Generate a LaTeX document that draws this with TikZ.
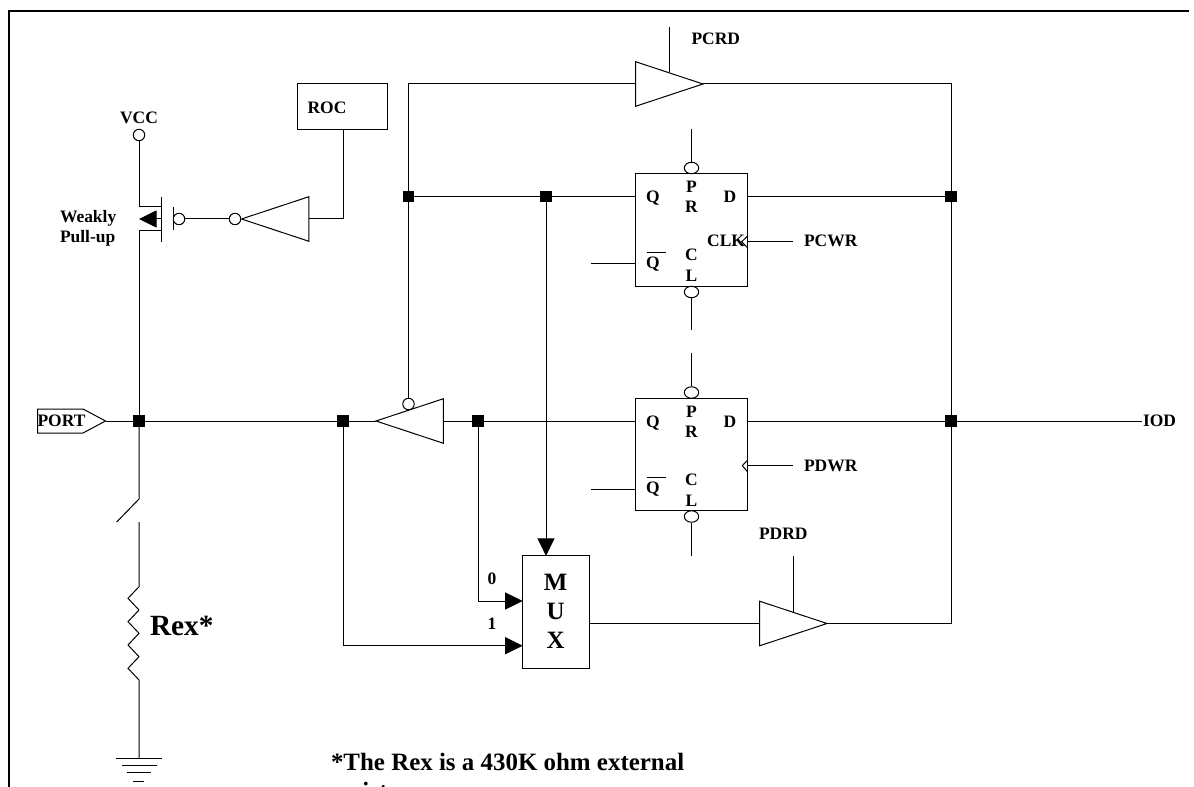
\documentclass[tikz,border=0pt]{standalone}
\usepackage{fontspec}
\setmainfont{Liberation Serif}
\usetikzlibrary{arrows, arrows.meta}
\usetikzlibrary{shapes.geometric}
\tikzset{
  wire/.style={line width=0.75pt},
  lab/.style={font=\bfseries\fontsize{13.1}{15.2}\selectfont, inner sep=0pt, outer sep=0pt, anchor=base},
  biglab/.style={font=\bfseries\fontsize{18.7}{21.3}\selectfont, inner sep=0pt, outer sep=0pt, anchor=base},
  dot/.style={rectangle, fill=black, inner sep=0pt, minimum size=8.4pt},
  bubble/.style={circle, draw, line width=0.75pt, fill=white, inner sep=0pt, minimum size=8.6pt},
  ffbubble/.style={ellipse, draw, line width=0.75pt, fill=white, inner sep=0pt, minimum width=10.8pt, minimum height=8.6pt},
  buf/.style={isosceles triangle, isosceles triangle stretches, draw, line width=0.75pt, inner sep=0pt, outer sep=0pt, minimum width=33.4pt, minimum height=50.5pt, anchor=apex},
  ffbox/.style={rectangle, draw, line width=0.75pt, inner sep=0pt, outer sep=0pt, minimum width=84.3pt, minimum height=84.6pt},
  tip/.style={wire, -{Triangle[length=13.2pt, width=12.8pt]}}
}
\begin{document}
\begin{tikzpicture}[x=0.75pt, y=-0.75pt]
      \useasboundingbox (0,0) rectangle (1194,787);
      \clip (0,0) rectangle (1194,787);
      \draw[line width=1.5pt] (9,787) -- (9,11) -- (1189,11);

      \node[bubble] (vcc) at (139,135) {};
      \node[lab] (vcclab) at (139,124) {VCC};
      \node[lab, align=left, anchor=base west] (pullup) at (60,243) {Weakly\\Pull-up};
      \node[rectangle, draw, line width=0.75pt, inner sep=0pt, outer sep=0pt, minimum width=68pt, minimum height=33.8pt] (roc) at (342.5,106.5) {};
      \node[lab] (roclab) at (327,114) {ROC};

      \coordinate (mostop) at (139,207);
      \coordinate (mosd) at (161.5,207);
      \coordinate (moss) at (161.5,231);
      \coordinate (mosbot) at (139,231);
      \coordinate (chtop) at (161.5,197);
      \coordinate (chbot) at (161.5,242);
      \coordinate (bulk) at (161.5,219);
      \coordinate (bulktip) at (139,219);
      \coordinate (gatetop) at (173,207);
      \coordinate (gatebot) at (173,230);
      \node[bubble] (gate) at (179,219) {};
      \node[bubble] (invbub) at (235,219) {};
      \node[buf, shape border rotate=180] (inv) at (241.5,219) {};
      \coordinate (rocbend) at (343,219);

      \draw[wire] (vcc) -- (mostop) -- (mosd);
      \draw[wire] (chtop) -- (chbot);
      \draw[wire] (moss) -- (mosbot);
      \draw[tip] (bulk) -- (bulktip);
      \draw[wire] (gatetop) -- (gatebot);
      \draw[wire] (gate) -- (invbub);
      \draw[wire] (inv.lower side) -- (rocbend) -- (rocbend |- roc.south);

      \coordinate (porttl) at (37.5,409);
      \coordinate (porttr) at (83,409);
      \coordinate (porttip) at (105.5,421);
      \coordinate (portbr) at (83,433);
      \coordinate (portbl) at (37.5,433);
      \draw[wire] (porttl) -- (porttr) -- (porttip) -- (portbr) -- (portbl) -- cycle;
      \node[lab, anchor=base west] (portlab) at (37.5,426) {PORT};

      \node[dot] (j1) at (139,421) {};
      \node[dot] (j2) at (343,421) {};
      \node[dot] (j3) at (478,421) {};
      \node[dot] (j4) at (408.5,196.5) {};
      \node[dot] (j5) at (546,196.5) {};
      \node[dot] (j6) at (951,196.5) {};
      \node[dot] (j7) at (951,421) {};

      \node[buf, shape border rotate=180] (inbuf) at (376,421) {};
      \node[bubble] (inbub) at (408.5,404) {};
      \node[buf] (pcrdbuf) at (703,84) {};
      \node[buf] (pdrdbuf) at (827,623.5) {};

      \coordinate (pcrdtop) at (669,27);
      \coordinate (pcrdbot) at (669,72);
      \coordinate (pdrdtop) at (793,556);
      \coordinate (pdrdbot) at (793,612);
      \coordinate (topleft) at (408.5,84);
      \coordinate (topright) at (951,84);
      \coordinate (botright) at (951,623.5);
      \node[lab, anchor=base west] (pcrdlab) at (691.5,45) {PCRD};
      \node[lab, anchor=base west] (pdrdlab) at (759,539) {PDRD};

      \node[ffbox] (ffc) at (691.5,230) {};
      \node[ffbox] (ffd) at (691.5,454.5) {};
      \node[ffbubble] (ffcpr) at (691.5,168) {};
      \node[ffbubble] (ffccl) at (691.5,292) {};
      \node[ffbubble] (ffdpr) at (691.5,392.5) {};
      \node[ffbubble] (ffdcl) at (691.5,516.5) {};

      \coordinate (ffcprtop) at (691.5,129);
      \coordinate (ffcclbot) at (691.5,330);
      \coordinate (ffdprtop) at (691.5,353);
      \coordinate (ffdclbot) at (691.5,555.5);
      \coordinate (ffcq) at (635.3,196.5);
      \coordinate (ffcd) at (747.7,196.5);
      \coordinate (ffdq) at (635.3,421);
      \coordinate (ffdd) at (747.7,421);
      \coordinate (ffcqbin) at (635.3,263.7);
      \coordinate (ffcqbout) at (591,263.7);
      \coordinate (ffdqbin) at (635.3,489);
      \coordinate (ffdqbout) at (591,489);
      \coordinate (ffcclka) at (747.7,236);
      \coordinate (ffcclkb) at (741.7,241.7);
      \coordinate (ffcclkc) at (747.7,248);
      \coordinate (ffcclkin) at (747.7,241.7);
      \coordinate (ffcclkout) at (792.7,241.7);
      \coordinate (ffdclka) at (747.7,460);
      \coordinate (ffdclkb) at (742.3,465.7);
      \coordinate (ffdclkc) at (747.7,472);
      \coordinate (ffdclkin) at (747.7,465.7);
      \coordinate (ffdclkout) at (792.7,465.7);
      \coordinate (ffcbar) at (647,252.7);
      \coordinate (ffcbarr) at (665.5,252.7);
      \coordinate (ffdbar) at (647,477.2);
      \coordinate (ffdbarr) at (665.5,477.2);

      \node[lab] (ffcqlab) at (653,203) {Q};
      \node[lab] (ffcp) at (691.5,193) {P};
      \node[lab] (ffcr) at (691.5,213) {R};
      \node[lab] (ffcdlab) at (730,203) {D};
      \node[lab, anchor=base east] (ffcclk) at (745,247) {CLK};
      \node[lab] (ffcqb) at (653,269) {Q};
      \node[lab] (ffcc) at (691.5,261) {C};
      \node[lab] (ffcl) at (691.5,281.7) {L};
      \node[lab, anchor=base west] (pcwrlab) at (804,247) {PCWR};

      \node[lab] (ffdqlab) at (653,427.5) {Q};
      \node[lab] (ffdp) at (691.5,417.5) {P};
      \node[lab] (ffdr) at (691.5,437.5) {R};
      \node[lab] (ffddlab) at (730,427.5) {D};
      \node[lab] (ffdqb) at (653,493.5) {Q};
      \node[lab] (ffdc) at (691.5,485.5) {C};
      \node[lab] (ffdl) at (691.5,506.2) {L};
      \node[lab, anchor=base west] (pdwrlab) at (804,471.7) {PDWR};

      \node[rectangle, draw, line width=0.75pt, inner sep=0pt, outer sep=0pt, minimum width=50.5pt, minimum height=84.2pt] (mux) at (556.3,612) {};
      \node[biglab] (muxm) at (555.7,590.7) {M};
      \node[biglab] (muxu) at (555.7,619) {U};
      \node[biglab] (muxx) at (555.7,648) {X};
      \node[lab] (mux0) at (492,584) {0};
      \node[lab] (mux1) at (492,629) {1};
      \coordinate (muxin0) at (522.7,601);
      \coordinate (muxin1) at (522.7,645.7);
      \coordinate (muxout) at (590,623.5);

      \node[lab, anchor=base west] (iodlab) at (1143,426) {IOD};
      \coordinate (iodend) at (1142,421);

      \draw[wire] (mosbot) -- (j1);
      \draw[wire] (porttip) -- (j1) -- (j2) -- (inbuf.apex);
      \draw[wire] (inbuf.lower side) -- (j3) -- (ffdq);
      \draw[wire] (ffdd) -- (j7) -- (iodend);
      \draw[wire] (inbub) -- (j4) -- (topleft) -- (pcrdbuf.lower side);
      \draw[wire] (pcrdbuf.apex) -- (topright) -- (j6) -- (j7) -- (botright) -- (pdrdbuf.apex);
      \draw[wire] (j4) -- (j5) -- (ffcq);
      \draw[wire] (ffcd) -- (j6);
      \draw[wire] (pcrdtop) -- (pcrdbot);
      \draw[wire] (pdrdtop) -- (pdrdbot);
      \draw[wire] (muxout) -- (pdrdbuf.lower side);
      \draw[tip] (j5) -- (j5 |- mux.north);
      \draw[tip] (j3) |- (muxin0);
      \draw[tip] (j2) |- (muxin1);

      \draw[wire] (ffcprtop) -- (ffcpr);
      \draw[wire] (ffccl) -- (ffcclbot);
      \draw[wire] (ffdprtop) -- (ffdpr);
      \draw[wire] (ffdcl) -- (ffdclbot);
      \draw[wire] (ffcqbout) -- (ffcqbin);
      \draw[wire] (ffdqbout) -- (ffdqbin);
      \draw[wire] (ffcclka) -- (ffcclkb) -- (ffcclkc);
      \draw[wire] (ffdclka) -- (ffdclkb) -- (ffdclkc);
      \draw[wire] (ffcclkin) -- (ffcclkout);
      \draw[wire] (ffdclkin) -- (ffdclkout);
      \draw[wire] (ffcbar) -- (ffcbarr);
      \draw[wire] (ffdbar) -- (ffdbarr);

      \coordinate (swtop) at (139,499);
      \coordinate (swend) at (116.7,522);
      \coordinate (swbot) at (139,522);
      \coordinate (resa) at (139,586.7);
      \coordinate (resb) at (128,598.3);
      \coordinate (resc) at (139,610);
      \coordinate (resd) at (128,621.7);
      \coordinate (rese) at (139,633.3);
      \coordinate (resf) at (128,645);
      \coordinate (resg) at (139,656.7);
      \coordinate (resh) at (128,668.3);
      \coordinate (resk) at (139,680);
      \coordinate (gnd) at (139,758);
      \draw[wire] (j1) -- (swtop) -- (swend);
      \draw[wire] (swbot) -- (resa) -- (resb) -- (resc) -- (resd) -- (rese) -- (resf) -- (resg) -- (resh) -- (resk) -- (gnd);
      \node[font=\bfseries\fontsize{22}{24}\selectfont, inner sep=0pt, outer sep=0pt, anchor=base west] (rexlab) at (150,635) {Rex*};

      \draw[wire] (116,758.3) -- (162,758.3);
      \draw[wire] (122,765.3) -- (156.7,765.3);
      \draw[wire] (127.3,772.7) -- (151,772.7);
      \draw[wire] (133,781) -- (144,781);

      \node[biglab, align=left, anchor=base west] (note) at (331,799) {*The Rex is a 430K ohm external\\resistor};
\end{tikzpicture}
\end{document}
